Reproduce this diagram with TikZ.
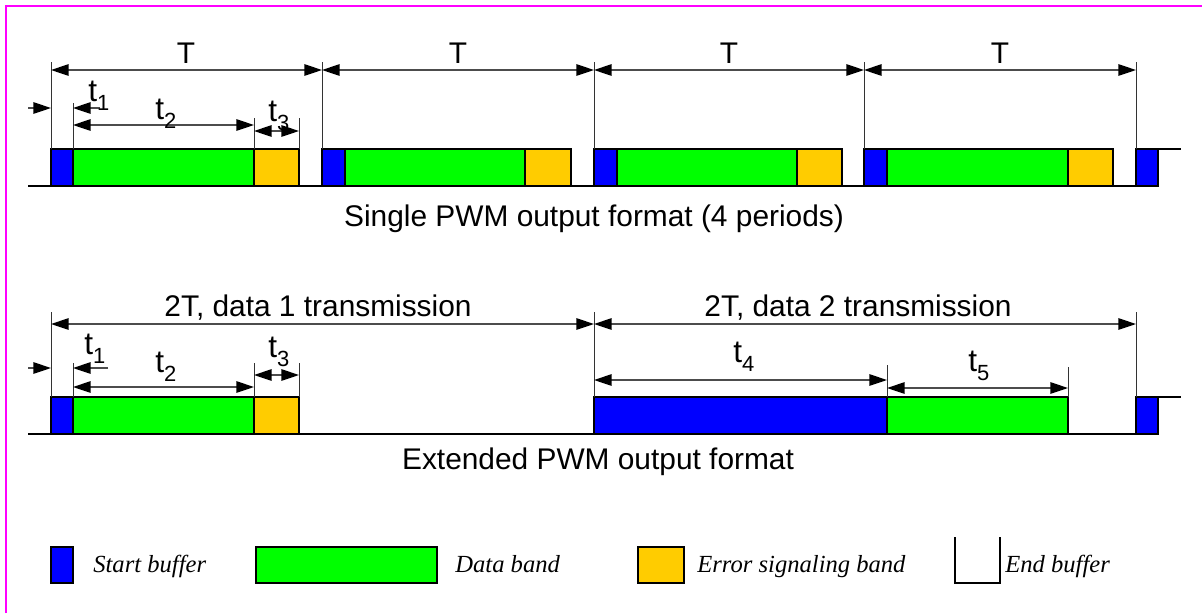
\documentclass[tikz,border=0pt]{standalone}
\usepackage{fontspec}
\setmainfont{Liberation Serif}
\setsansfont{Liberation Sans}
\usetikzlibrary{arrows.meta}

\definecolor{startblue}{RGB}{0,0,255}
\definecolor{datagreen}{RGB}{0,255,0}
\definecolor{erroryellow}{RGB}{255,204,0}
\definecolor{framepink}{RGB}{255,0,255}

\newcommand{\tsub}[1]{t\raisebox{-5.5pt}{\fontsize{12.5}{14}\selectfont #1}}

\begin{document}
\begin{tikzpicture}[x=0.02cm, y=-0.02cm,
    dimtip/.tip={Triangle[length=10pt,width=6.5pt,color=black]},
    band/.style={draw=black, line width=1pt},
    dim/.style={dimtip-dimtip, black!70, line width=0.8pt},
    halfdim/.style={-dimtip, black!70, line width=0.8pt},
    ext/.style={black!80, line width=0.5pt},
    lbl/.style={font=\sffamily\fontsize{17}{20}\selectfont, inner sep=0pt, anchor=base},
    tlbl/.style={font=\sffamily\fontsize{18}{20}\selectfont, inner sep=0pt, anchor=base west},
    legend/.style={font=\itshape\fontsize{14}{16}\selectfont, inner sep=0pt, anchor=base west}]

\useasboundingbox (0,0) rectangle (1202,613);
\draw [framepink, line width=1.2pt] (6,613) -- (6,6) -- (1202,6);

% single PWM, four periods
\draw [band] (28,186) -- (1158,186);
\draw [band, fill=startblue] (51,149) rectangle (73,186);
\draw [band, fill=datagreen] (73,149) rectangle (254,186);
\draw [band, fill=erroryellow] (254,149) rectangle (299,186);
\draw [band, fill=startblue] (322,149) rectangle (345,186);
\draw [band, fill=datagreen] (345,149) rectangle (525,186);
\draw [band, fill=erroryellow] (525,149) rectangle (571,186);
\draw [band, fill=startblue] (594,149) rectangle (617,186);
\draw [band, fill=datagreen] (617,149) rectangle (797,186);
\draw [band, fill=erroryellow] (797,149) rectangle (842,186);
\draw [band, fill=startblue] (864,149) rectangle (887,186);
\draw [band, fill=datagreen] (887,149) rectangle (1068,186);
\draw [band, fill=erroryellow] (1068,149) rectangle (1113,186);
\draw [band, fill=startblue] (1136,149) rectangle (1158,186);
\draw [band] (1158,149) -- (1181,149);

\draw [ext] (51,62) -- (51,149);
\draw [ext] (322,62) -- (322,149);
\draw [ext] (594,62) -- (594,149);
\draw [ext] (864,62) -- (864,149);
\draw [ext] (1136,62) -- (1136,149);
\draw [ext] (73,103) -- (73,149);
\draw [ext] (254,118) -- (254,149);
\draw [ext] (299,118) -- (299,149);

\draw [dim] (51,70) -- (322,70);
\draw [dim] (322,70) -- (594,70);
\draw [dim] (594,70) -- (864,70);
\draw [dim] (864,70) -- (1136,70);
\draw [halfdim] (28,108) -- (51,108);
\draw [halfdim] (100,108) -- (73,108);
\draw [dim] (73,125) -- (254,125);
\draw [dim] (254,131) -- (299,131);

\node (periodA) [lbl] at (186,63) {T};
\node (periodB) [lbl] at (458,63) {T};
\node (periodC) [lbl] at (729,63) {T};
\node (periodD) [lbl] at (1000,63) {T};
\node (topone) [tlbl] at (88,101) {\tsub{1}};
\node (toptwo) [tlbl] at (155,119) {\tsub{2}};
\node (topthree) [tlbl] at (268,121) {\tsub{3}};
\node (capSingle) [lbl] at (594,226) {Single PWM output format (4 periods)};

% extended PWM
\draw [band] (28,434) -- (1158,434);
\draw [band, fill=startblue] (51,397) rectangle (73,434);
\draw [band, fill=datagreen] (73,397) rectangle (254,434);
\draw [band, fill=erroryellow] (254,397) rectangle (299,434);
\draw [band, fill=startblue] (594,397) rectangle (887,434);
\draw [band, fill=datagreen] (887,397) rectangle (1068,434);
\draw [band, fill=startblue] (1136,397) rectangle (1158,434);
\draw [band] (1158,397) -- (1181,397);

\draw [ext] (51,312) -- (51,397);
\draw [ext] (594,312) -- (594,397);
\draw [ext] (1136,312) -- (1136,397);
\draw [ext] (73,363) -- (73,397);
\draw [ext] (254,363) -- (254,397);
\draw [ext] (299,363) -- (299,397);
\draw [ext] (887,365) -- (887,397);
\draw [ext] (1068,367) -- (1068,397);

\draw [dim] (51,324) -- (594,324);
\draw [dim] (594,324) -- (1136,324);
\draw [halfdim] (28,368) -- (51,368);
\draw [halfdim] (108,368) -- (73,368);
\draw [dim] (73,387) -- (254,387);
\draw [dim] (254,375) -- (299,375);
\draw [dim] (594,380) -- (887,380);
\draw [dim] (887,388) -- (1068,388);

\node (dataone) [lbl] at (318,316) {2T, data 1 transmission};
\node (datatwo) [lbl] at (858,316) {2T, data 2 transmission};
\node (botone) [tlbl] at (84,354) {\tsub{1}};
\node (bottwo) [tlbl] at (155,372) {\tsub{2}};
\node (botthree) [tlbl] at (268,357) {\tsub{3}};
\node (botfour) [tlbl] at (733,362) {\tsub{4}};
\node (botfive) [tlbl] at (968,371) {\tsub{5}};
\node (capExtended) [lbl] at (598,469) {Extended PWM output format};

% legend
\draw [band, fill=startblue] (51,547) rectangle (73,583);
\node (legStart) [legend] at (93,572) {Start buffer};
\draw [band, fill=datagreen] (256,547) rectangle (437,583);
\node (legData) [legend] at (455,572) {Data band};
\draw [band, fill=erroryellow] (638,547) rectangle (684,583);
\node (legError) [legend] at (697,572) {Error signaling band};
\draw [black, line width=0.7pt] (955,537) -- (955,583) -- (1000,583) -- (1000,537);
\node (legEnd) [legend] at (1005,572) {End buffer};

\end{tikzpicture}
\end{document}
